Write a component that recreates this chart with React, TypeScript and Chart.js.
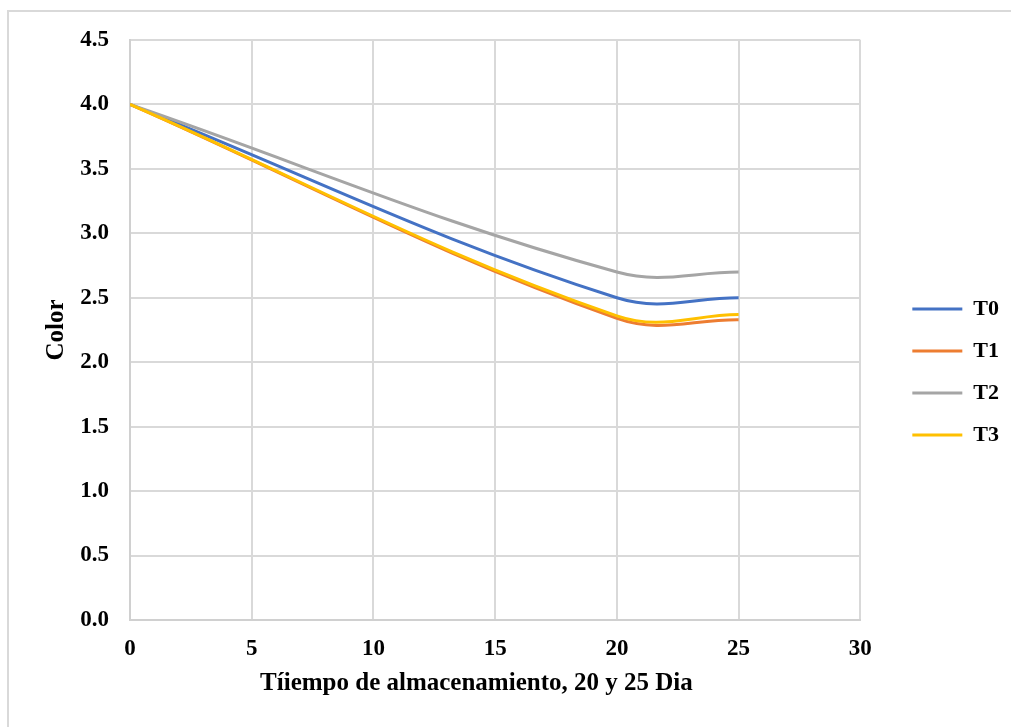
import React, { useEffect, useRef } from "react";
import { Chart, registerables } from "chart.js";

Chart.register(...registerables);

// ---- data ----
const days = [0, 20, 25];
const seriesNames = ["T0", "T1", "T2", "T3"];
const t0Values = [4.0, 2.5, 2.5];
const t1Values = [4.0, 2.34, 2.33];
const t2Values = [4.0, 2.7, 2.7];
const t3Values = [4.0, 2.36, 2.37];
const seriesColors = ["#4472C4", "#ED7D31", "#A5A5A5", "#FFC000"];
const xTickValues = [0, 5, 10, 15, 20, 25, 30];
const yTickValues = [0, 0.5, 1, 1.5, 2, 2.5, 3, 3.5, 4, 4.5];
const xTitle = "Tíiempo de almacenamiento, 20 y 25 Dia";
const yTitle = "Color";

const FONT = "'Liberation Serif', 'Times New Roman', serif";
const GRID = "#d9d9d9";

export default function App() {
  const ref = useRef<HTMLCanvasElement | null>(null);

  useEffect(() => {
    if (!ref.current) return;
    const allValues = [t0Values, t1Values, t2Values, t3Values];
    const datasets = seriesNames.map((name, i) => ({
      label: name,
      data: days.map((d, j) => ({ x: d, y: allValues[i][j] })),
      borderColor: seriesColors[i],
      backgroundColor: seriesColors[i],
      borderWidth: 3,
      pointRadius: 0,
      pointHoverRadius: 0,
      tension: 0.38,
      fill: false,
      order: seriesNames.length - 1 - i,
    }));

    const chart = new Chart(ref.current, {
      type: "line",
      data: { datasets },
      options: {
        animation: false,
        responsive: false,
        events: [],
        layout: { padding: { top: 40, left: 0, right: 2, bottom: 23 } },
        scales: {
          x: {
            type: "linear",
            min: 0,
            max: 30,
            afterBuildTicks: (s: any) => {
              s.ticks = xTickValues.map((v) => ({ value: v }));
            },
            afterFit: (s: any) => {
              s.height = 84;
            },
            grid: { color: GRID, lineWidth: 2, drawTicks: false },
            border: { color: "#d0d0d0", width: 2 },
            ticks: {
              padding: 15,
              color: "#000",
              font: { family: FONT, size: 23, weight: "bold" },
              callback: (v: any) => String(v),
            },
            title: {
              display: true,
              text: xTitle + "\u00A0\u00A0\u00A0\u00A0\u00A0\u00A0",
              color: "#000",
              font: { family: FONT, size: 25, weight: "bold" },
              padding: { top: 0, bottom: 5 },
            },
          },
          y: {
            type: "linear",
            min: 0,
            max: 4.5,
            afterBuildTicks: (s: any) => {
              s.ticks = yTickValues.map((v) => ({ value: v }));
            },
            afterFit: (s: any) => {
              s.width = 130;
            },
            grid: { color: GRID, lineWidth: 2, drawTicks: false },
            border: { color: "#d0d0d0", width: 2 },
            ticks: {
              padding: 21,
              color: "#000",
              font: { family: FONT, size: 23, weight: "bold" },
              callback: (v: any) => Number(v).toFixed(1),
            },
            title: {
              display: true,
              text: yTitle,
              color: "#000",
              font: { family: FONT, size: 25, weight: "bold" },
              padding: { top: 42, bottom: 0 },
            },
          },
          spacer: {
            type: "linear",
            position: "right",
            display: true,
            grid: { display: false },
            border: { display: false },
            ticks: { display: false },
            afterFit: (s: any) => {
              s.width = 32;
            },
          },
        },
        plugins: {
          tooltip: { enabled: false },
          legend: {
            display: true,
            position: "right",
            align: "center",
            labels: {
              boxWidth: 50,
              boxHeight: 3,
              padding: 20,
              color: "#000",
              font: { family: FONT, size: 22, weight: "bold" },
              sort: (a: any, b: any) => a.datasetIndex - b.datasetIndex,
              generateLabels: (c: any) =>
                (Chart as any).defaults.plugins.legend.labels
                  .generateLabels(c)
                  .map((l: any) => ({
                    ...l,
                    lineWidth: 0,
                    fillStyle: seriesColors[l.datasetIndex],
                  })),
            },
          },
        },
      } as any,
    });
    return () => chart.destroy();
  }, []);

  return (
    <div style={{ position: "absolute", left: 0, top: 0, width: 1011, height: 727, overflow: "hidden", background: "#fff" }}>
      <div
        style={{
          position: "absolute",
          left: 7,
          top: 10,
          width: 1100,
          height: 800,
          borderTop: "2px solid #d9d9d9",
          borderLeft: "2px solid #d9d9d9",
        }}
      />
      <canvas
        ref={ref}
        width={1011}
        height={727}
        style={{ position: "absolute", left: 0, top: 0, display: "block" }}
      />
    </div>
  );
}
